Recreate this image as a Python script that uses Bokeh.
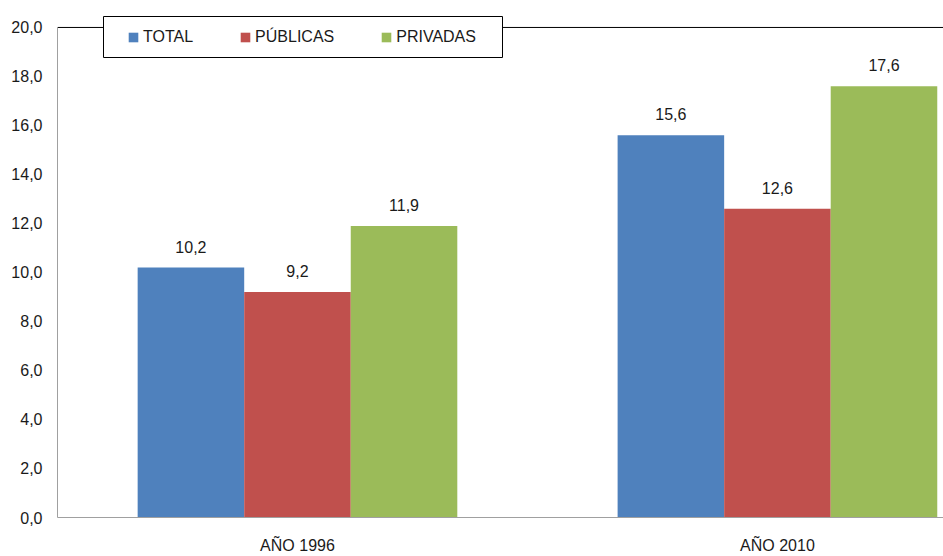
from bokeh.plotting import figure
from bokeh.models import ColumnDataSource, Span, FixedTicker, Range1d, Legend, LegendItem, BoxAnnotation
from bokeh.embed import file_html
from bokeh.resources import INLINE
from bokeh.core.properties import value

years = ["AÑO 1996", "AÑO 2010"]
series = ["TOTAL", "PÚBLICAS", "PRIVADAS"]
total = [10.2, 15.6]
publicas = [9.2, 12.6]
privadas = [11.9, 17.6]
y_ticks = [0, 2, 4, 6, 8, 10, 12, 14, 16, 18, 20]

colors = ["#4F81BD", "#C0504D", "#9BBB59"]
FONT = "Liberation Sans"
TXT = "#1a1a1a"

y_max = y_ticks[-1]
p = figure(width=943, height=556, output_backend="svg", toolbar_location=None,
           x_range=Range1d(0, 1.846), y_range=Range1d(0, 20.774))
p.min_border_left = 57
p.min_border_right = 0
p.min_border_top = 8
p.min_border_bottom = 38
p.outline_line_color = None
p.grid.visible = False
p.background_fill_color = "white"
p.border_fill_color = "white"

width = 0.222
offsets = [-width, 0.0, width]
group_x = [i + 0.5 for i in range(len(years))]

renderers = []
for vals, off, col in zip([total, publicas, privadas], offsets, colors):
    xs = [g + off for g in group_x]
    src = ColumnDataSource(dict(x=xs, top=vals, lab=[f"{v:.1f}".replace(".", ",") for v in vals]))
    r = p.vbar(x="x", top="top", width=width, source=src, fill_color=col, line_color=None)
    renderers.append(r)
    p.text(x="x", y="top", text="lab", source=src, text_align="center", text_baseline="middle",
           y_offset=-21, text_font=value(FONT), text_font_size="16px", text_color=TXT)

p.add_layout(Span(location=y_max, dimension="width", line_color="black", line_width=1))

# axes
p.yaxis.ticker = FixedTicker(ticks=y_ticks)
p.yaxis.bounds = (0, y_max)
p.yaxis.major_label_overrides = {t: f"{t:.1f}".replace(".", ",") for t in y_ticks}
p.yaxis.major_label_standoff = 15
p.yaxis.axis_line_color = "#a0a0a0"

p.xaxis.ticker = FixedTicker(ticks=group_x)
p.xaxis.major_label_overrides = {g: y for g, y in zip(group_x, years)}
p.xaxis.major_label_standoff = 19
p.xaxis.axis_line_color = "#a0a0a0"

for ax in (p.xaxis, p.yaxis):
    ax.major_tick_out = 0
    ax.major_tick_in = 0
    ax.minor_tick_out = 0
    ax.minor_tick_in = 0
    ax.major_label_text_font = FONT
    ax.major_label_text_font_size = "16px"
    ax.major_label_text_color = TXT

# legend frame (box) and legend items
p.add_layout(BoxAnnotation(left=46, right=445, bottom=460, top=501,
                           left_units="screen", right_units="screen",
                           bottom_units="screen", top_units="screen",
                           fill_color="white", fill_alpha=1,
                           line_color="black", line_width=1, line_alpha=1))

legend = Legend(items=[LegendItem(label=s, renderers=[r]) for s, r in zip(series, renderers)],
                orientation="horizontal", location=(70, 470))
legend.glyph_width = 12
legend.glyph_height = 12
legend.label_height = 20
legend.label_standoff = 4
legend.spacing = 46
legend.padding = 0
legend.margin = 0
legend.label_text_font = FONT
legend.label_text_font_size = "16px"
legend.label_text_color = TXT
legend.border_line_color = None
legend.background_fill_alpha = 0
p.add_layout(legend, "center")

open("out.html", "w").write(file_html(p, INLINE))
